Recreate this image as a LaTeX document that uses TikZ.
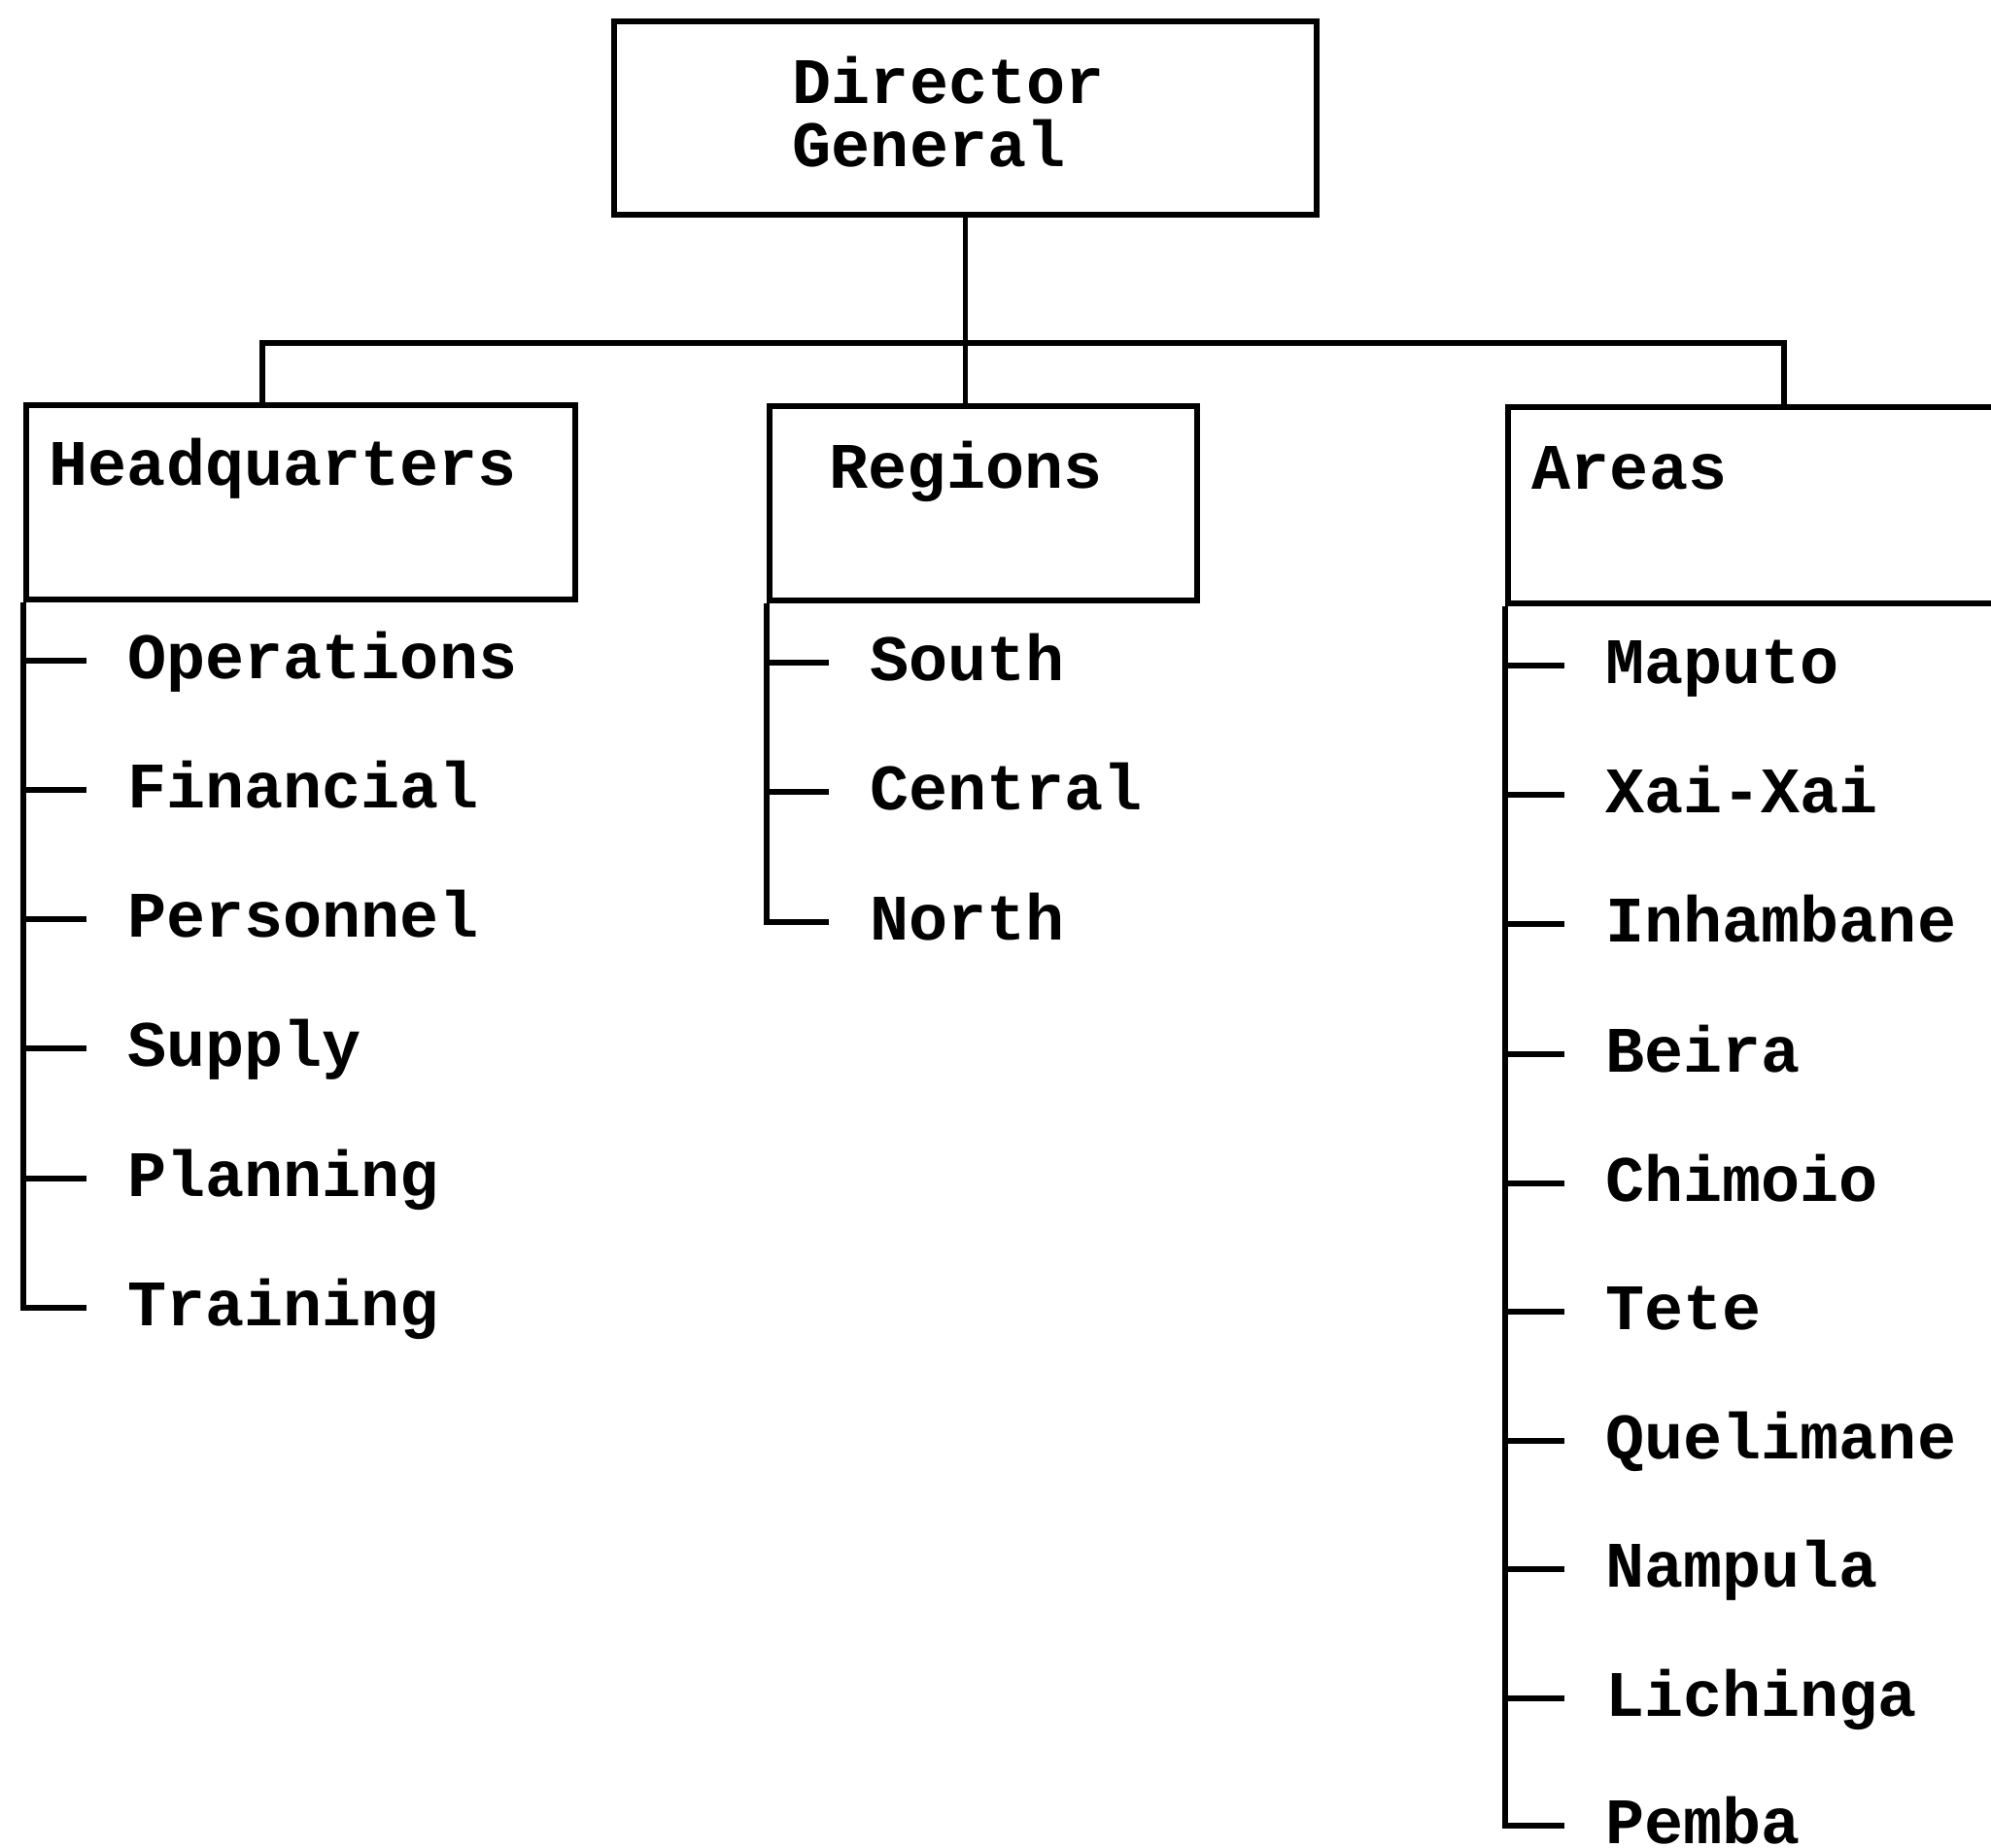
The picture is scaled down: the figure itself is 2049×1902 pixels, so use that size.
\documentclass[tikz,border=0pt]{standalone}
\usepackage{fontspec}
\newfontfamily\cour{Liberation Mono}
\begin{document}
\begin{tikzpicture}[x=0.25pt,y=-0.25pt, line width=1.4pt,
  box/.style={draw, rectangle, inner sep=0pt},
  txtfont/.style={font=\cour\bfseries\fontsize{16.7}{16.4}\selectfont},
  lbl/.style={txtfont, inner sep=0pt, anchor=base west},
  item/.style={txtfont, inner xsep=9.9pt, inner ysep=0pt, anchor=west, text height=9.4pt, text depth=0pt}]
\useasboundingbox (0,0) rectangle (2049,1902);
\clip (0,0) rectangle (2049,1902);
% boxes
\node[box, minimum width=180.75pt, minimum height=49.75pt] (dg) at (993.5,121.5) {};
\node[box, minimum width=141.25pt, minimum height=50pt] (hq) at (309.5,517) {};
\node[box, minimum width=110pt, minimum height=50pt] (reg) at (1012,518) {};
\node[box, minimum width=137pt, minimum height=50.5pt] (ar) at (1826,520) {};
% box texts
\node[txtfont, inner sep=0pt, anchor=north west, align=left] (dgt) at (813,55) {Director\\General};
\node[lbl] (hqt) at (48,500) {Headquarters};
\node[lbl] (regt) at (851,503) {Regions};
\node[lbl] (art) at (1574,504) {Areas};
% bus
\coordinate (busL) at (270,353);
\coordinate (busR) at (1836,353);
\draw (dg.south) -- (dg.south |- reg.north);
\draw (busL |- hq.north) -- (busL) -- (busR) -- (busR |- ar.north);
% HQ items
\node[item] (hq1) at (89,680) {Operations};
\node[item] (hq2) at (89,813) {Financial};
\node[item] (hq3) at (89,946) {Personnel};
\node[item] (hq4) at (89,1079) {Supply};
\node[item] (hq5) at (89,1213) {Planning};
\node[item] (hq6) at (89,1346) {Training};
\draw (hq.south west) |- (hq6.west);
\foreach \i in {1,...,5} \draw (hq.south west |- hq\i.west) -- (hq\i.west);
% Regions items
\node[item] (r1) at (853,682) {South};
\node[item] (r2) at (853,815) {Central};
\node[item] (r3) at (853,949) {North};
\draw (reg.south west) |- (r3.west);
\foreach \i in {1,2} \draw (reg.south west |- r\i.west) -- (r\i.west);
% Areas items
\node[item] (a1) at (1610,685) {Maputo};
\node[item] (a2) at (1610,818) {Xai-Xai};
\node[item] (a3) at (1610,951) {Inhambane};
\node[item] (a4) at (1610,1085) {Beira};
\node[item] (a5) at (1610,1218) {Chimoio};
\node[item] (a6) at (1610,1350) {Tete};
\node[item] (a7) at (1610,1483) {Quelimane};
\node[item] (a8) at (1610,1615) {Nampula};
\node[item] (a9) at (1610,1748) {Lichinga};
\node[item] (a10) at (1610,1879) {Pemba};
\draw (ar.south west) |- (a10.west);
\foreach \i in {1,...,9} \draw (ar.south west |- a\i.west) -- (a\i.west);
\end{tikzpicture}
\end{document}
